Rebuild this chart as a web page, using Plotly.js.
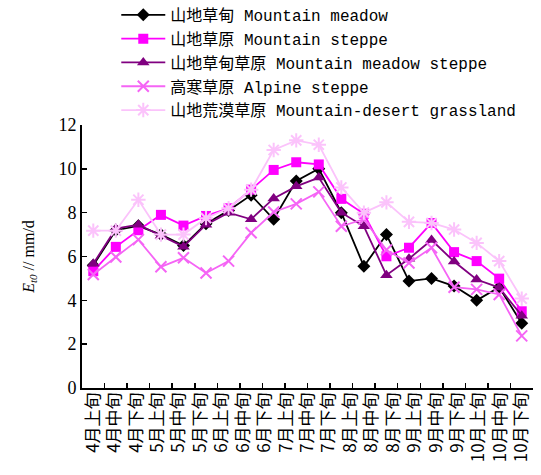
<!DOCTYPE html>
<html>
<head>
<meta charset="utf-8">
<script src="https://cdn.plot.ly/plotly-3.0.1.min.js"></script>
<style>html,body{margin:0;padding:0;background:#fff;}#chart{width:541px;height:475px;}</style>
</head>
<body>
<div id="chart"></div>
<script>
// Tick labels (21 dekads, as printed on the axis)
const categories = ["4月上旬","4月中旬","4月下旬","5月上旬","5月中旬","5月下旬","6月上旬","6月中旬","6月下旬","7月上旬","7月中旬","7月下旬","8月上旬","8月中旬","8月下旬","9月上旬","9月中旬","9月下旬","10月上旬","10月中旬","10月下旬"];
// Series values (20 plotted points each)
const mountainMeadow       = [5.6, 7.2, 7.4, 7.0, 6.5, 7.5, 8.1, 8.8, 7.7, 9.45, 10.0, 8.0, 5.55, 7.0, 4.88, 5.0, 4.65, 4.0, 4.6, 2.95];
const mountainSteppe       = [5.33, 6.44, 7.2, 7.9, 7.41, 7.85, 8.2, 9.05, 9.95, 10.3, 10.2, 8.63, 7.95, 6.01, 6.4, 7.53, 6.2, 5.79, 4.99, 3.5];
const mountainMeadowSteppe = [5.67, 7.27, 7.45, 6.95, 6.45, 7.45, 8.0, 7.7, 8.65, 9.2, 9.6, 8.0, 7.38, 5.15, 5.9, 6.75, 5.77, 4.95, 4.58, 3.3];
const alpineSteppe         = [5.18, 5.98, 6.77, 5.53, 5.94, 5.25, 5.79, 7.08, 8.03, 8.4, 8.95, 7.38, 7.7, 6.3, 5.7, 6.4, 4.6, 4.5, 4.27, 2.38];
const desertGrassland      = [7.18, 7.18, 8.59, 7.0, 7.0, 7.75, 8.2, 9.05, 10.86, 11.3, 11.1, 9.15, 8.0, 8.47, 7.58, 7.53, 7.23, 6.62, 5.79, 4.08];
const seriesNames = ["山地草甸 Mountain meadow","山地草原 Mountain steppe","山地草甸草原 Mountain meadow steppe","高寒草原 Alpine steppe","山地荒漠草原 Mountain-desert grassland"];

const nPts = mountainMeadow.length;
const xIdx = mountainMeadow.map((_, i) => i);
const labelPos = categories.map((_, k) => k * (nPts - 1) / (categories.length - 1));
const boundaries = [];
for (let i = 0; i <= nPts; i++) boundaries.push(i - 0.5);

const styles = [
  {color:'#000000', symbol:'diamond', size:10},
  {color:'#FF00FF', symbol:'square', size:10},
  {color:'#800080', symbol:'triangle-up', size:11},
  {color:'#F564F5', symbol:'x-thin-open', size:11},
  {color:'#FBC3FB', symbol:'asterisk-open', size:12}
];
const values = [mountainMeadow, mountainSteppe, mountainMeadowSteppe, alpineSteppe, desertGrassland];

const traces = values.map((v, i) => ({
  x: xIdx, y: v, type:'scatter', mode:'lines+markers', name: seriesNames[i],
  legendgroup: 'g' + i,
  line: {color: styles[i].color, width: 1.8},
  marker: {symbol: styles[i].symbol, size: styles[i].size, color: styles[i].color,
           line: {color: styles[i].color, width: (i >= 3 ? 2 : 0)}},
  hoverinfo: 'x+y'
}));
// carrier for the label axis
traces.push({x: labelPos, y: labelPos.map(() => null), xaxis:'x2', type:'scatter', mode:'markers', showlegend:false, hoverinfo:'skip'});

const layout = {
  width: 541, height: 475,
  margin: {l: 82, r: 8, t: 125, b: 87, autoexpand: false},
  paper_bgcolor: '#fff', plot_bgcolor: '#fff',
  showlegend: true,
  legend: {x: 0.076, y: 1.483, xanchor: 'left', yanchor: 'top', traceorder: 'grouped', tracegroupgap: 0,
           font: {family: 'Liberation Mono, Noto Sans CJK SC', size: 16, color: '#000'},
           bgcolor: 'rgba(0,0,0,0)', itemwidth: 44},
  xaxis: {range: [-0.5, nPts - 0.5], tickmode: 'array', tickvals: boundaries, showticklabels: false,
          ticks: 'inside', ticklen: 5, tickwidth: 1.5, tickcolor: '#000', showline: true, linecolor: '#000', linewidth: 2,
          showgrid: false, zeroline: false, fixedrange: true},
  xaxis2: {overlaying: 'x', anchor: 'y', side: 'bottom', range: [-0.5, nPts - 0.5], tickmode: 'array',
           tickvals: labelPos, ticktext: categories, tickangle: -90, ticks: '', showline: false, showgrid: false,
           zeroline: false, tickfont: {family: 'Noto Sans CJK SC, Liberation Serif', size: 17, color: '#000'}},
  yaxis: {range: [0, 12], dtick: 2, tick0: 0, ticks: 'inside', ticklen: 5, tickwidth: 1.5, tickcolor: '#000',
          showline: true, linecolor: '#000', linewidth: 2, showgrid: false, zeroline: false,
          tickfont: {family: 'Liberation Serif', size: 18, color: '#000'},
          title: {text: '<i>E</i><sub><i>t0</i></sub> // mm/d', font: {family: 'Liberation Serif', size: 16, color: '#000'}, standoff: 20}}
};
Plotly.newPlot('chart', traces, layout, {displayModeBar: false, staticPlot: true});
</script>
</body>
</html>
